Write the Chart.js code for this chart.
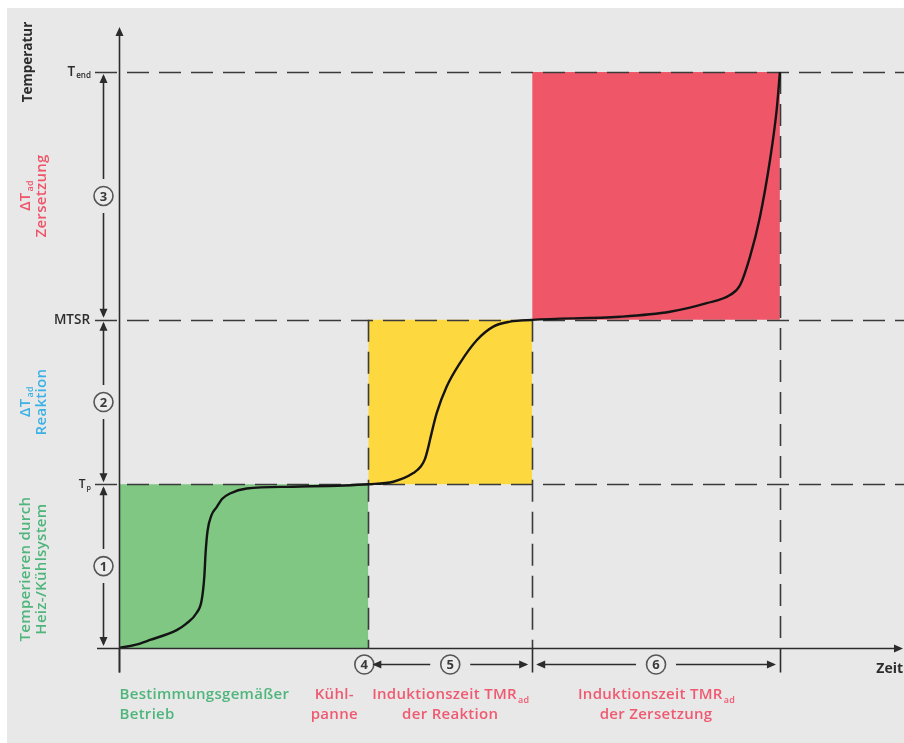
<!DOCTYPE html>
<html>
<head>
<meta charset="utf-8">
<script src="https://cdn.jsdelivr.net/npm/chart.js@4.4.1/dist/chart.umd.min.js"></script>
<style>
  html, body { margin: 0; padding: 0; background: #fff; }
  #wrap { position: relative; width: 904px; height: 743px; }
  #bg { position: absolute; left: 7px; top: 8px; right: 0; bottom: 0; background: #e8e8e9; }
  #c { position: absolute; left: 0; top: 0; }
</style>
</head>
<body>
<div id="wrap"><div id="bg"></div><canvas id="c" width="904" height="743"></canvas></div>
<script>
// time marks on the x axis and temperature levels on the y axis (axis units 0..100)
const timeMarks = [0, 31.8, 52.7, 84.3];
const tempLevels = [0, 26.5, 53.1, 93.2];
const levelLabels = ['', 'T_p', 'MTSR', 'T_end'];

// temperature curve
const curveX = [0, 2.04, 3.95, 7.36, 8.55, 9.91, 10.55, 10.88, 11.05, 11.3, 11.8, 12.46, 13.14, 14.16, 16.29, 22.2, 31.8,
  34.99, 37.54, 38.52, 39.03, 39.41, 39.67, 40.52, 41.8, 43.49, 45.63, 47.74, 49.87, 52.7,
  63.9, 70.28, 74.96, 77.93, 79.21, 80.48, 81.76, 83.04, 83.89, 84.3];
const curveY = [0, 0.5, 1.3, 2.9, 3.9, 5.7, 7.77, 11.5, 15.5, 19.0, 21.5, 22.8, 24.1, 25.0, 25.8, 26.1, 26.5,
  26.9, 28.3, 29.4, 30.6, 32.3, 33.7, 38.0, 42.3, 46.1, 49.8, 52.0, 52.8, 53.1,
  53.6, 54.4, 55.8, 57.1, 58.7, 63.3, 69.8, 79.0, 87.1, 93.2];

// text
const bandNumbers = ['1', '2', '3'];
const bandLabels = [
  ['Temperieren durch', 'Heiz-/Kühlsystem'],
  ['ΔT_ad', 'Reaktion'],
  ['ΔT_ad', 'Zersetzung']
];
const phaseNumbers = ['4', '5', '6'];
const phaseLabels = [
  ['Bestimmungsgemäßer', 'Betrieb'],
  ['Kühl-', 'panne'],
  ['Induktionszeit TMR_ad', 'der Reaktion'],
  ['Induktionszeit TMR_ad', 'der Zersetzung']
];
const yTitle = 'Temperatur';
const xTitle = 'Zeit';

const zoneColors = ['#7fc783', '#fdd83f', '#ef5768'];
const bandColors = ['#4fb57b', '#3cb1e4', '#ef5468'];
const phaseColors = ['#4fb57b', '#ef5a70', '#ef5a70', '#ef5a70'];
const FONT = '"Open Sans", "DejaVu Sans", sans-serif';
const INK = '#2c2c2c';

// draw "text_sub" with a subscript part
function richText(ctx, s, x, y, align, size, weight) {
  const [main, sub] = s.split('_');
  const wt = weight || 'normal';
  ctx.font = `${wt} ${size}px ${FONT}`;
  const w1 = ctx.measureText(main).width;
  let w2 = 0;
  if (sub) {
    ctx.font = `${wt} ${size * 0.6}px ${FONT}`;
    w2 = ctx.measureText(sub).width;
  }
  const total = w1 + w2;
  let x0 = x;
  if (align === 'center') x0 = x - total / 2;
  else if (align === 'right') x0 = x - total;
  ctx.textAlign = 'left';
  ctx.font = `${wt} ${size}px ${FONT}`;
  ctx.fillText(main, x0, y);
  if (sub) {
    ctx.font = `${wt} ${size * 0.6}px ${FONT}`;
    ctx.fillText(sub, x0 + w1 + 1, y + size * 0.28);
  }
}

function arrowHead(ctx, x, y, dir) {
  // tip at (x,y)
  const L = 9, W = 4;
  ctx.beginPath();
  ctx.moveTo(x, y);
  if (dir === 'up') { ctx.lineTo(x - W, y + L); ctx.lineTo(x + W, y + L); }
  if (dir === 'down') { ctx.lineTo(x - W, y - L); ctx.lineTo(x + W, y - L); }
  if (dir === 'left') { ctx.lineTo(x + L, y - W); ctx.lineTo(x + L, y + W); }
  if (dir === 'right') { ctx.lineTo(x - L, y - W); ctx.lineTo(x - L, y + W); }
  ctx.closePath();
  ctx.fill();
}

function numCircle(ctx, x, y, n) {
  ctx.save();
  ctx.letterSpacing = '0px';
  ctx.beginPath();
  ctx.arc(x, y, 9.5, 0, Math.PI * 2);
  ctx.fillStyle = '#ececec';
  ctx.fill();
  ctx.lineWidth = 1.6;
  ctx.strokeStyle = '#555';
  ctx.stroke();
  ctx.fillStyle = '#3a3a3a';
  ctx.font = `bold 13px ${FONT}`;
  ctx.textAlign = 'center';
  ctx.textBaseline = 'middle';
  ctx.fillText(n, x, y + 1);
  ctx.restore();
}

const sketch = {
  id: 'sketch',
  afterDatasetDraw(chart, args) {
    if (args.index !== 1) return;
    // dashed guide lines, over the zones but under the curve
    const { ctx, scales: { x, y } } = chart;
    ctx.save();
    ctx.setLineDash([22, 10]);
    ctx.lineWidth = 1.6;
    ctx.strokeStyle = '#3a3a3a';
    for (let i = 1; i < tempLevels.length; i++) {
      const py = Math.round(y.getPixelForValue(tempLevels[i])) + 0.5;
      ctx.beginPath();
      ctx.moveTo(95, py);
      ctx.lineTo(chart.width, py);
      ctx.stroke();
    }
    const tops = [null, tempLevels[2], tempLevels[2], tempLevels[3]];
    for (let i = 1; i < timeMarks.length; i++) {
      const px = Math.round(x.getPixelForValue(timeMarks[i])) + 0.5;
      ctx.beginPath();
      ctx.moveTo(px, y.getPixelForValue(tops[i]));
      ctx.lineTo(px, y.getPixelForValue(0));
      ctx.stroke();
    }
    ctx.restore();
  },
  afterDraw(chart) {
    const { ctx, scales: { x, y } } = chart;
    const x0 = Math.round(x.getPixelForValue(0)) + 0.5;
    const y0 = Math.round(y.getPixelForValue(0)) + 0.5;
    ctx.save();
    ctx.strokeStyle = INK;
    ctx.fillStyle = INK;
    ctx.lineWidth = 1.6;

    // axes with arrows
    ctx.beginPath();
    ctx.moveTo(x0, y0 + 24);
    ctx.lineTo(x0, 32);
    ctx.moveTo(97, y0);
    ctx.lineTo(chart.width - 4, y0);
    ctx.stroke();
    arrowHead(ctx, x0, 27, 'up');
    arrowHead(ctx, chart.width - 1, y0, 'right');

    // ticks below the axis
    [0, 2, 3].forEach(i => {
      const px = Math.round(x.getPixelForValue(timeMarks[i])) + 0.5;
      ctx.beginPath();
      ctx.moveTo(px, y0);
      ctx.lineTo(px, y0 + 24);
      ctx.stroke();
    });

    // level labels
    ctx.textBaseline = 'middle';
    for (let i = 1; i < tempLevels.length; i++) {
      const py = y.getPixelForValue(tempLevels[i]);
      const size = i === 1 ? 12 : 13.5;
      richText(ctx, levelLabels[i], 90, py, 'right', size, '600');
    }

    // dimension arrows on the left
    const ax = 103.5;
    for (let i = 0; i < 3; i++) {
      const yb = y.getPixelForValue(tempLevels[i]);
      const yt = y.getPixelForValue(tempLevels[i + 1]);
      const ym = (yb + yt) / 2;
      ctx.beginPath();
      ctx.moveTo(ax, yb - 4);
      ctx.lineTo(ax, ym + 17);
      ctx.moveTo(ax, ym - 17);
      ctx.lineTo(ax, yt + 4);
      ctx.stroke();
      arrowHead(ctx, ax, yb - 2, 'down');
      arrowHead(ctx, ax, yt + 2, 'up');
      numCircle(ctx, ax, ym, bandNumbers[i]);
    }

    // rotated band labels
    ctx.letterSpacing = '0.3px';
    for (let i = 0; i < 3; i++) {
      const yb = y.getPixelForValue(tempLevels[i]);
      const yt = y.getPixelForValue(tempLevels[i + 1]);
      const ym = (yb + yt) / 2 + (i === 0 ? 3 : 0);
      ctx.save();
      ctx.fillStyle = bandColors[i];
      ctx.textBaseline = 'middle';
      bandLabels[i].forEach((s, k) => {
        ctx.save();
        ctx.translate(26 + k * 16, ym);
        ctx.rotate(-Math.PI / 2);
        richText(ctx, s, 0, 0, 'center', 15, '600');
        ctx.restore();
      });
      ctx.restore();
    }
    ctx.letterSpacing = '0px';

    // y title
    ctx.save();
    ctx.fillStyle = INK;
    ctx.translate(28, 62);
    ctx.rotate(-Math.PI / 2);
    ctx.textBaseline = 'middle';
    richText(ctx, yTitle, 0, 0, 'center', 13.5, 'bold');
    ctx.restore();

    // x title
    ctx.textBaseline = 'middle';
    richText(ctx, xTitle, chart.width - 1, y0 + 21, 'right', 14, 'bold');

    // phase arrows and numbers below the axis
    const p1 = x.getPixelForValue(timeMarks[1]);
    const p2 = x.getPixelForValue(timeMarks[2]);
    const p3 = x.getPixelForValue(timeMarks[3]);
    const ay = y0 + 16;
    numCircle(ctx, p1 - 4, ay, phaseNumbers[0]);
    [[p1 + 4, p2 - 4, phaseNumbers[1]], [p2 + 4, p3 - 4, phaseNumbers[2]]].forEach(([a, b, n]) => {
      const m = (a + b) / 2;
      ctx.beginPath();
      ctx.moveTo(a + 2, ay);
      ctx.lineTo(m - 20, ay);
      ctx.moveTo(m + 20, ay);
      ctx.lineTo(b - 2, ay);
      ctx.stroke();
      arrowHead(ctx, a, ay, 'left');
      arrowHead(ctx, b, ay, 'right');
      numCircle(ctx, m, ay, n);
    });

    // phase labels
    ctx.letterSpacing = '0.3px';
    ctx.textBaseline = 'alphabetic';
    const labelPos = [[x0, 'left'], [p1 - 34, 'center'], [(p1 + p2) / 2, 'center'], [(p2 + p3) / 2, 'center']];
    phaseLabels.forEach((lines, i) => {
      ctx.fillStyle = phaseColors[i];
      lines.forEach((s, k) => {
        richText(ctx, s, labelPos[i][0], y0 + 50 + k * 20, labelPos[i][1], 15, '600');
      });
    });
    ctx.restore();
  }
};

const curve = curveX.map((v, i) => ({ x: v, y: curveY[i] }));
const zones = [1, 2, 3].map(i => ({
  label: 'zone' + i,
  data: [{ x: timeMarks[i - 1], y: tempLevels[i] }, { x: timeMarks[i], y: tempLevels[i] }],
  borderColor: 'rgba(0,0,0,0)',
  backgroundColor: zoneColors[i - 1],
  pointRadius: 0,
  fill: { value: tempLevels[i - 1] }
}));

new Chart(document.getElementById('c'), {
  type: 'line',
  data: {
    datasets: [
      {
        label: 'Temperatur',
        data: curve,
        borderColor: '#141414',
        borderWidth: 2.4,
        pointRadius: 0,
        cubicInterpolationMode: 'monotone',
        fill: false
      },
      ...zones
    ]
  },
  options: {
    responsive: false,
    animation: false,
    layout: { padding: { left: 119, right: 1, top: 30, bottom: 95 } },
    plugins: { legend: { display: false }, tooltip: { enabled: false } },
    scales: {
      x: { type: 'linear', min: 0, max: 100, display: false },
      y: { type: 'linear', min: 0, max: 100, display: false }
    }
  },
  plugins: [sketch]
});
</script>
</body>
</html>
